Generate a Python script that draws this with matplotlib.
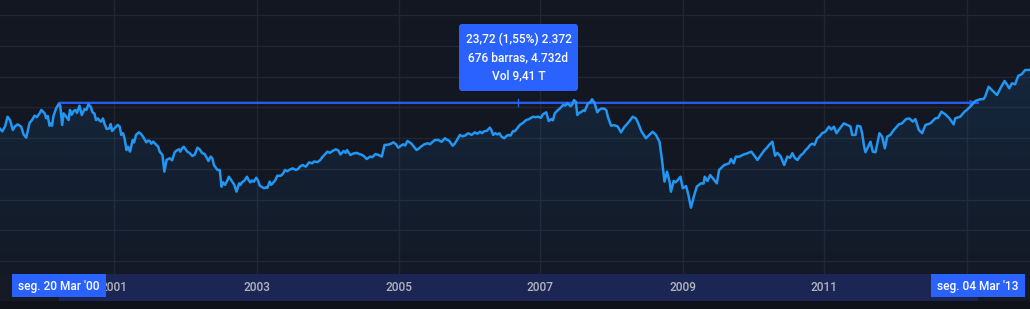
import matplotlib
matplotlib.use("Agg")
import matplotlib.pyplot as plt
import matplotlib.dates as mdates
from matplotlib.colors import to_rgb
from matplotlib.patches import Rectangle, FancyBboxPatch
from matplotlib.transforms import IdentityTransform
import numpy as np
import pandas as pd

plt.rcParams["font.family"] = ["Roboto", "DejaVu Sans"]

# Weekly-ish closes (S&P 500 style index), by year
week_dates = (
    ["1999-05-07", "1999-05-21", "1999-06-04", "1999-06-18", "1999-07-01", "1999-07-14", "1999-07-28", "1999-08-08", "1999-08-22", "1999-09-09", "1999-09-21", "1999-10-05", "1999-10-22", "1999-11-05", "1999-11-17", "1999-11-28", "1999-12-13", "1999-12-22"]
    + ["2000-01-08", "2000-01-16", "2000-01-24", "2000-02-02", "2000-02-09", "2000-02-15", "2000-02-22", "2000-03-07", "2000-03-20", "2000-03-28", "2000-04-07", "2000-04-14", "2000-04-25", "2000-05-10", "2000-05-17", "2000-05-26", "2000-06-05", "2000-06-14", "2000-06-22", "2000-07-05", "2000-07-17", "2000-07-31", "2000-08-10", "2000-08-20", "2000-09-01", "2000-09-10", "2000-09-20", "2000-09-28", "2000-10-08", "2000-10-15", "2000-10-24", "2000-11-03", "2000-11-10", "2000-11-22", "2000-12-06", "2000-12-13", "2000-12-20"]
    + ["2001-01-01", "2001-01-18", "2001-01-28", "2001-02-05", "2001-02-14", "2001-02-22", "2001-03-04", "2001-03-12", "2001-03-22", "2001-04-05", "2001-04-12", "2001-04-22", "2001-05-07", "2001-05-17", "2001-05-28", "2001-06-14", "2001-06-24", "2001-07-01", "2001-07-10", "2001-07-20", "2001-08-05", "2001-08-14", "2001-08-22", "2001-09-05", "2001-09-15", "2001-09-26", "2001-10-05", "2001-10-12", "2001-10-25", "2001-11-07", "2001-11-18", "2001-11-29", "2001-12-06", "2001-12-14", "2001-12-24"]
    + ["2002-01-11", "2002-01-22", "2002-02-06", "2002-02-18", "2002-03-04", "2002-03-15", "2002-03-29", "2002-04-10", "2002-04-30", "2002-05-11", "2002-05-20", "2002-05-28", "2002-06-15", "2002-06-27", "2002-07-06", "2002-07-14", "2002-07-24", "2002-08-05", "2002-08-13", "2002-08-22", "2002-08-30", "2002-09-10", "2002-09-21", "2002-10-05", "2002-10-12", "2002-10-19", "2002-11-01", "2002-11-14", "2002-11-22", "2002-12-01", "2002-12-10", "2002-12-19"]
    + ["2003-01-01", "2003-01-10", "2003-01-19", "2003-02-10", "2003-02-20", "2003-02-27", "2003-03-11", "2003-03-18", "2003-03-25", "2003-04-08", "2003-04-19", "2003-05-07", "2003-05-18", "2003-05-29", "2003-06-10", "2003-06-19", "2003-07-07", "2003-07-24", "2003-08-05", "2003-08-13", "2003-08-27", "2003-09-13", "2003-09-30", "2003-10-15", "2003-10-26", "2003-11-12", "2003-11-25", "2003-12-08"]
    + ["2004-01-02", "2004-01-15", "2004-01-28", "2004-02-14", "2004-02-27", "2004-03-09", "2004-03-26", "2004-04-05", "2004-04-12", "2004-04-29", "2004-05-15", "2004-06-01", "2004-06-15", "2004-06-27", "2004-07-10", "2004-07-23", "2004-08-09", "2004-08-20", "2004-09-05", "2004-09-21", "2004-10-08", "2004-10-22", "2004-11-11", "2004-11-25", "2004-12-07", "2004-12-20"]
    + ["2005-01-01", "2005-01-12", "2005-01-26", "2005-02-05", "2005-02-17", "2005-03-10", "2005-03-22", "2005-04-05", "2005-04-16", "2005-04-27", "2005-05-15", "2005-06-01", "2005-06-13", "2005-06-25", "2005-07-09", "2005-07-26", "2005-08-12", "2005-08-29", "2005-09-10", "2005-09-19", "2005-10-08", "2005-10-18", "2005-10-28", "2005-11-14", "2005-11-26", "2005-12-10", "2005-12-27"]
    + ["2006-01-13", "2006-01-30", "2006-02-12", "2006-02-25", "2006-03-08", "2006-03-18", "2006-04-02", "2006-04-17", "2006-04-25", "2006-05-04", "2006-05-15", "2006-05-26", "2006-06-05", "2006-06-16", "2006-06-30", "2006-07-10", "2006-07-20", "2006-08-01", "2006-08-15", "2006-08-23", "2006-09-05", "2006-09-18", "2006-10-05", "2006-10-21", "2006-11-05", "2006-11-25", "2006-12-08", "2006-12-20"]
    + ["2007-01-05", "2007-01-15", "2007-02-01", "2007-02-14", "2007-02-28", "2007-03-08", "2007-03-17", "2007-04-03", "2007-04-15", "2007-04-29", "2007-05-10", "2007-05-21", "2007-06-07", "2007-06-16", "2007-06-24", "2007-07-04", "2007-07-11", "2007-07-20", "2007-07-29", "2007-08-10", "2007-08-18", "2007-09-04", "2007-09-15", "2007-09-25", "2007-10-08", "2007-10-22", "2007-11-01", "2007-11-11", "2007-11-28", "2007-12-08", "2007-12-15"]
    + ["2008-01-01", "2008-01-18", "2008-02-04", "2008-02-21", "2008-03-09", "2008-03-26", "2008-04-08", "2008-04-21", "2008-05-08", "2008-05-20", "2008-06-06", "2008-06-16", "2008-06-28", "2008-07-16", "2008-08-02", "2008-08-19", "2008-09-06", "2008-09-18", "2008-10-02", "2008-10-15", "2008-10-28", "2008-11-04", "2008-11-18", "2008-11-28", "2008-12-09", "2008-12-23"]
    + ["2009-01-04", "2009-01-21", "2009-02-02", "2009-02-15", "2009-03-04", "2009-03-17", "2009-04-07", "2009-04-21", "2009-04-27", "2009-05-11", "2009-05-25", "2009-06-15", "2009-06-28", "2009-07-10", "2009-08-05", "2009-08-31", "2009-09-09", "2009-09-23", "2009-10-04", "2009-10-22", "2009-11-08", "2009-12-03", "2009-12-23"]
    + ["2010-01-06", "2010-01-23", "2010-02-09", "2010-03-01", "2010-03-12", "2010-03-24", "2010-04-10", "2010-04-24", "2010-05-06", "2010-05-23", "2010-06-10", "2010-06-26", "2010-07-10", "2010-07-22", "2010-08-03", "2010-08-17", "2010-09-03", "2010-09-15", "2010-09-28", "2010-10-10", "2010-10-21", "2010-11-01", "2010-11-13", "2010-11-27", "2010-12-10", "2010-12-22"]
    + ["2011-01-08", "2011-01-26", "2011-02-07", "2011-02-21", "2011-03-06", "2011-03-24", "2011-04-13", "2011-04-30", "2011-05-17", "2011-05-26", "2011-06-12", "2011-06-21", "2011-07-07", "2011-07-16", "2011-07-25", "2011-08-02", "2011-08-16", "2011-08-28", "2011-09-09", "2011-09-23", "2011-10-13", "2011-10-27", "2011-11-10", "2011-11-22", "2011-12-08", "2011-12-26"]
    + ["2012-01-21", "2012-02-06", "2012-02-27", "2012-03-15", "2012-04-02", "2012-04-15", "2012-05-03", "2012-05-20", "2012-06-06", "2012-07-01", "2012-07-27", "2012-08-10", "2012-08-27", "2012-09-16", "2012-10-07", "2012-10-29", "2012-11-06", "2012-12-02", "2012-12-24"]
    + ["2013-01-05", "2013-01-31", "2013-02-17", "2013-03-14", "2013-04-01", "2013-04-09", "2013-04-27", "2013-05-14", "2013-06-09", "2013-07-01", "2013-07-18", "2013-07-30", "2013-08-11", "2013-08-25", "2013-09-10", "2013-09-27", "2013-10-14", "2013-11-01", "2013-11-22", "2013-11-29"]
)
closes = (
    [1345, 1330, 1305, 1345, 1424, 1395, 1316, 1345, 1362, 1343, 1281, 1254, 1373, 1400, 1433, 1420, 1452, 1479]
    + [1452, 1411, 1430, 1351, 1370, 1351, 1430, 1493, 1527, 1515, 1357, 1452, 1430, 1397, 1479, 1440, 1470, 1479, 1455, 1514, 1438, 1487, 1480, 1525, 1505, 1460, 1450, 1397, 1410, 1395, 1384, 1410, 1370, 1324, 1330, 1365, 1308]
    + [1330, 1357, 1345, 1276, 1290, 1249, 1153, 1180, 1140, 1235, 1215, 1276, 1297, 1285, 1262, 1216, 1230, 1227, 1205, 1222, 1194, 1180, 1140, 1113, 977, 1072, 1080, 1086, 1070, 1135, 1150, 1159, 1140, 1165, 1180]
    + [1140, 1130, 1105, 1115, 1172, 1160, 1127, 1122, 1064, 1100, 1085, 1031, 991, 991, 855, 890, 870, 905, 936, 915, 896, 870, 814, 882, 870, 890, 905, 936, 910, 890, 905, 895]
    + [928, 905, 863, 842, 850, 845, 896, 870, 880, 905, 944, 944, 960, 991, 980, 991, 1004, 991, 1000, 1018, 1031, 1018, 1053, 1045, 1060, 1055, 1070, 1097]
    + [1140, 1130, 1145, 1159, 1150, 1117, 1145, 1130, 1153, 1113, 1125, 1130, 1120, 1115, 1100, 1080, 1100, 1095, 1120, 1113, 1100, 1194, 1197, 1205, 1216, 1200]
    + [1172, 1185, 1200, 1190, 1227, 1205, 1180, 1153, 1165, 1180, 1200, 1208, 1200, 1218, 1235, 1235, 1220, 1249, 1235, 1230, 1188, 1205, 1230, 1276, 1265, 1270, 1290]
    + [1276, 1297, 1285, 1302, 1290, 1305, 1310, 1335, 1315, 1276, 1290, 1280, 1290, 1262, 1249, 1265, 1276, 1270, 1308, 1305, 1330, 1357, 1375, 1397, 1405, 1424, 1420, 1424]
    + [1415, 1444, 1460, 1389, 1405, 1395, 1452, 1479, 1495, 1520, 1515, 1533, 1510, 1525, 1560, 1545, 1438, 1455, 1460, 1475, 1470, 1533, 1540, 1566, 1535, 1460, 1480, 1490, 1490, 1475, 1424]
    + [1351, 1355, 1345, 1297, 1340, 1370, 1395, 1424, 1410, 1370, 1302, 1280, 1249, 1276, 1302, 1276, 1221, 1086, 896, 977, 896, 814, 901, 890, 909, 936]
    + [842, 860, 787, 684, 787, 855, 882, 880, 936, 901, 950, 909, 882, 991, 1031, 1045, 1080, 1045, 1099, 1099, 1113, 1127, 1140]
    + [1110, 1072, 1110, 1153, 1170, 1194, 1221, 1107, 1130, 1100, 1031, 1100, 1090, 1127, 1090, 1072, 1110, 1125, 1153, 1170, 1194, 1205, 1195, 1249, 1265, 1290]
    + [1302, 1343, 1320, 1343, 1290, 1330, 1370, 1357, 1345, 1276, 1276, 1351, 1345, 1290, 1194, 1135, 1180, 1221, 1140, 1135, 1290, 1262, 1167, 1262, 1276, 1316]
    + [1362, 1370, 1405, 1410, 1384, 1405, 1316, 1290, 1357, 1370, 1411, 1415, 1465, 1444, 1411, 1362, 1411, 1424, 1465]
    + [1479, 1520, 1552, 1566, 1568, 1587, 1668, 1641, 1601, 1668, 1715, 1688, 1655, 1696, 1688, 1758, 1769, 1804, 1805, 1807]
)
assert len(week_dates) == len(closes)

# year gridlines; the 2013 label sits under the end-date box, so it is not drawn
year_ticks = ["2001-01-01", "2003-01-06", "2005-01-03", "2007-01-01", "2009-01-05", "2011-01-03", "2013-01-07"]
year_labels = ["2001", "2003", "2005", "2007", "2009", "2011", ""]
price_grid = [250, 500, 750, 1000, 1250, 1500, 1750, 2000, 2250]

range_start, range_end = "2000-03-20", "2013-03-04"
range_low, range_high = 1527.46, 1551.18
start_label = "seg. 20 Mar '00"
end_label = "seg. 04 Mar '13"
tooltip_lines = ["23,72 (1,55%) 2.372", "676 barras, 4.732d", "Vol 9,41 T"]

BG = "#131722"
GRID = "#222632"
LINE = "#2196f3"
ACCENT = "#2962ff"
W, H = 1030, 309

dates = pd.to_datetime(week_dates)
x_min, x_max = pd.Timestamp("1999-05-23"), pd.Timestamp("2013-11-26")
y_min, y_max = 144.4, 2373.9

fig = plt.figure(figsize=(W / 100, H / 100), dpi=100, facecolor="#0f1219")
ax = fig.add_axes([0, 35 / H, 1, 274 / H], facecolor=BG)
strip = fig.add_axes([0, 8 / H, 1, 27 / H], facecolor="#161a25", sharex=ax)

for a in (ax, strip):
    for s in a.spines.values():
        s.set_visible(False)
    a.tick_params(left=False, bottom=False, labelleft=False, labelbottom=False)

# grid
for p in price_grid:
    ax.axhline(p, color=GRID, lw=1, zorder=0)
for t in year_ticks:
    ax.axvline(pd.Timestamp(t), color=GRID, lw=1, zorder=0)

# price line + faded area below
ax.plot(dates, closes, color=LINE, lw=1.8, zorder=4, solid_joinstyle="round")
poly = ax.fill_between(dates, closes, y_min, color="none", lw=0)
grad = np.zeros((256, 1, 4))
grad[..., :3] = to_rgb(LINE)
grad[..., 3] = np.linspace(0.13, 0.02, 256)[:, None]
im = ax.imshow(grad, extent=[mdates.date2num(x_min), mdates.date2num(x_max), y_min, max(closes)],
               aspect="auto", origin="upper", zorder=1)
im.set_clip_path(poly.get_paths()[0], transform=ax.transData)

# date/price range measurement
r0, r1 = pd.Timestamp(range_start), pd.Timestamp(range_end)
mid = (range_low + range_high) / 2
ax.fill_between([r0, r1], range_low, range_high, color=ACCENT, alpha=0.3, lw=0, zorder=2)
ax.plot([r0, r1], [mid, mid], color=ACCENT, lw=1.3, zorder=3)
ax.annotate("", xy=(r1, mid), xytext=(r1 - pd.Timedelta(days=30), mid),
            arrowprops=dict(arrowstyle="->", color=ACCENT, lw=1.0, mutation_scale=7), zorder=3)
r_mid = r0 + (r1 - r0) / 2
ax.plot([r_mid, r_mid], [range_low - 15, range_high + 15], color=ACCENT, lw=1.0, zorder=3)

ax.set_xlim(x_min, x_max)
ax.set_ylim(y_min, y_max)

# time axis strip
strip.axvspan(r0, r1, color="#1b2654", lw=0, zorder=0)
strip.set_ylim(0, 1)
for t, lab in zip(year_ticks, year_labels):
    if lab:
        strip.text(pd.Timestamp(t), 0.5, lab, color="#b2b5be", fontsize=8.6, fontweight="medium",
                   ha="center", va="center", zorder=2)

half_box = pd.Timedelta(days=241)
for d, lab in ((r0, start_label), (r1, end_label)):
    strip.add_patch(Rectangle((d - half_box, 0.15), 2 * half_box, 0.85, color=ACCENT, lw=0, zorder=3))
    strip.text(d, 0.54, lab, color="white", fontsize=8.6, fontweight="medium", ha="center", va="center", zorder=4)
strip.set_xlim(x_min, x_max)

# tooltip box (pixel coords)
fig.add_artist(FancyBboxPatch((459, H - 91), 119, 67, boxstyle="round,pad=0,rounding_size=3",
                              transform=IdentityTransform(), facecolor=ACCENT, edgecolor="none", zorder=10))
for ty, line in zip([39, 57.5, 75.5], tooltip_lines):
    fig.text(518.5 / W, 1 - ty / H, line, color="white", fontsize=8.6, fontweight="medium",
             ha="center", va="center", zorder=11)

fig.savefig("out.png", dpi=100, facecolor=fig.get_facecolor())
